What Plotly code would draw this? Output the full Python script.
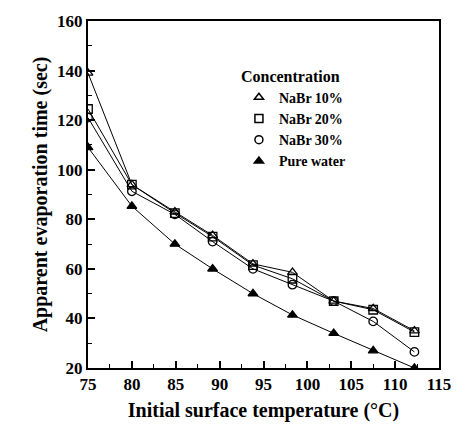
import plotly.graph_objects as go

temps = [75, 80, 84.9, 89.2, 93.8, 98.3, 103.0, 107.5, 112.2]
nabr10 = [139, 94, 83, 73.5, 62, 58.6, 47, 44, 35]
nabr20 = [124.5, 94, 82.5, 73, 61.5, 56, 47, 43.5, 34.5]
nabr30 = [121, 91.3, 82, 71, 60, 53.6, 47, 38.8, 26.5]
pure_water = [109, 85.3, 70, 60, 50, 41.4, 34, 27, 20]

series = [
    ("NaBr 10%", nabr10, "triangle-up-open"),
    ("NaBr 20%", nabr20, "square-open"),
    ("NaBr 30%", nabr30, "circle-open"),
    ("Pure water", pure_water, "triangle-up"),
]

FONT = "Liberation Serif, Times New Roman, serif"

fig = go.Figure()
for name, vals, sym in series:
    fig.add_trace(go.Scatter(
        x=temps, y=vals, name=name, mode="lines+markers", showlegend=False,
        line=dict(color="black", width=1),
        marker=dict(symbol=sym, size=8.5, color="black",
                    line=dict(color="black", width=1.3)),
    ))
# legend entries: markers only, as in the original
for name, vals, sym in series:
    fig.add_trace(go.Scatter(
        x=[None], y=[None], name=name, mode="markers",
        marker=dict(symbol=sym, size=8, color="black",
                    line=dict(color="black", width=1.5)),
    ))

axis_common = dict(
    showline=True, linecolor="black", linewidth=2, mirror=True,
    ticks="inside", ticklen=7, tickwidth=1.5, tickcolor="black",
    showgrid=False, zeroline=False,
    tickfont=dict(family=FONT, size=17, color="black", weight="bold"),
)

fig.update_layout(
    width=463, height=435,
    margin=dict(l=88, r=19, t=14, b=67),
    paper_bgcolor="white", plot_bgcolor="white",
    font=dict(family=FONT, color="black"),
    xaxis=dict(range=[75, 115], dtick=5,
               minor=dict(ticks="inside", ticklen=4, tickwidth=1, tickcolor="black", dtick=2.5),
               title=dict(text="Initial surface temperature (°C)",
                          font=dict(family=FONT, size=20, color="black", weight="bold"),
                          standoff=10),
               **axis_common),
    yaxis=dict(range=[20, 160], dtick=20,
               minor=dict(ticks="inside", ticklen=4, tickwidth=1, tickcolor="black", dtick=10),
               title=dict(text="Apparent evaporation time (sec)",
                          font=dict(family=FONT, size=20, color="black", weight="bold"),
                          standoff=4),
               **axis_common),
    legend=dict(
        x=0.43, y=0.885, xanchor="left", yanchor="top",
        bgcolor="rgba(0,0,0,0)",
        title=dict(text="Concentration", font=dict(family=FONT, size=16, color="black", weight="bold")),
        font=dict(family=FONT, size=14, color="black", weight="bold"),
        itemwidth=30, tracegroupgap=0,
    ),
)

fig.write_html("out.html")
